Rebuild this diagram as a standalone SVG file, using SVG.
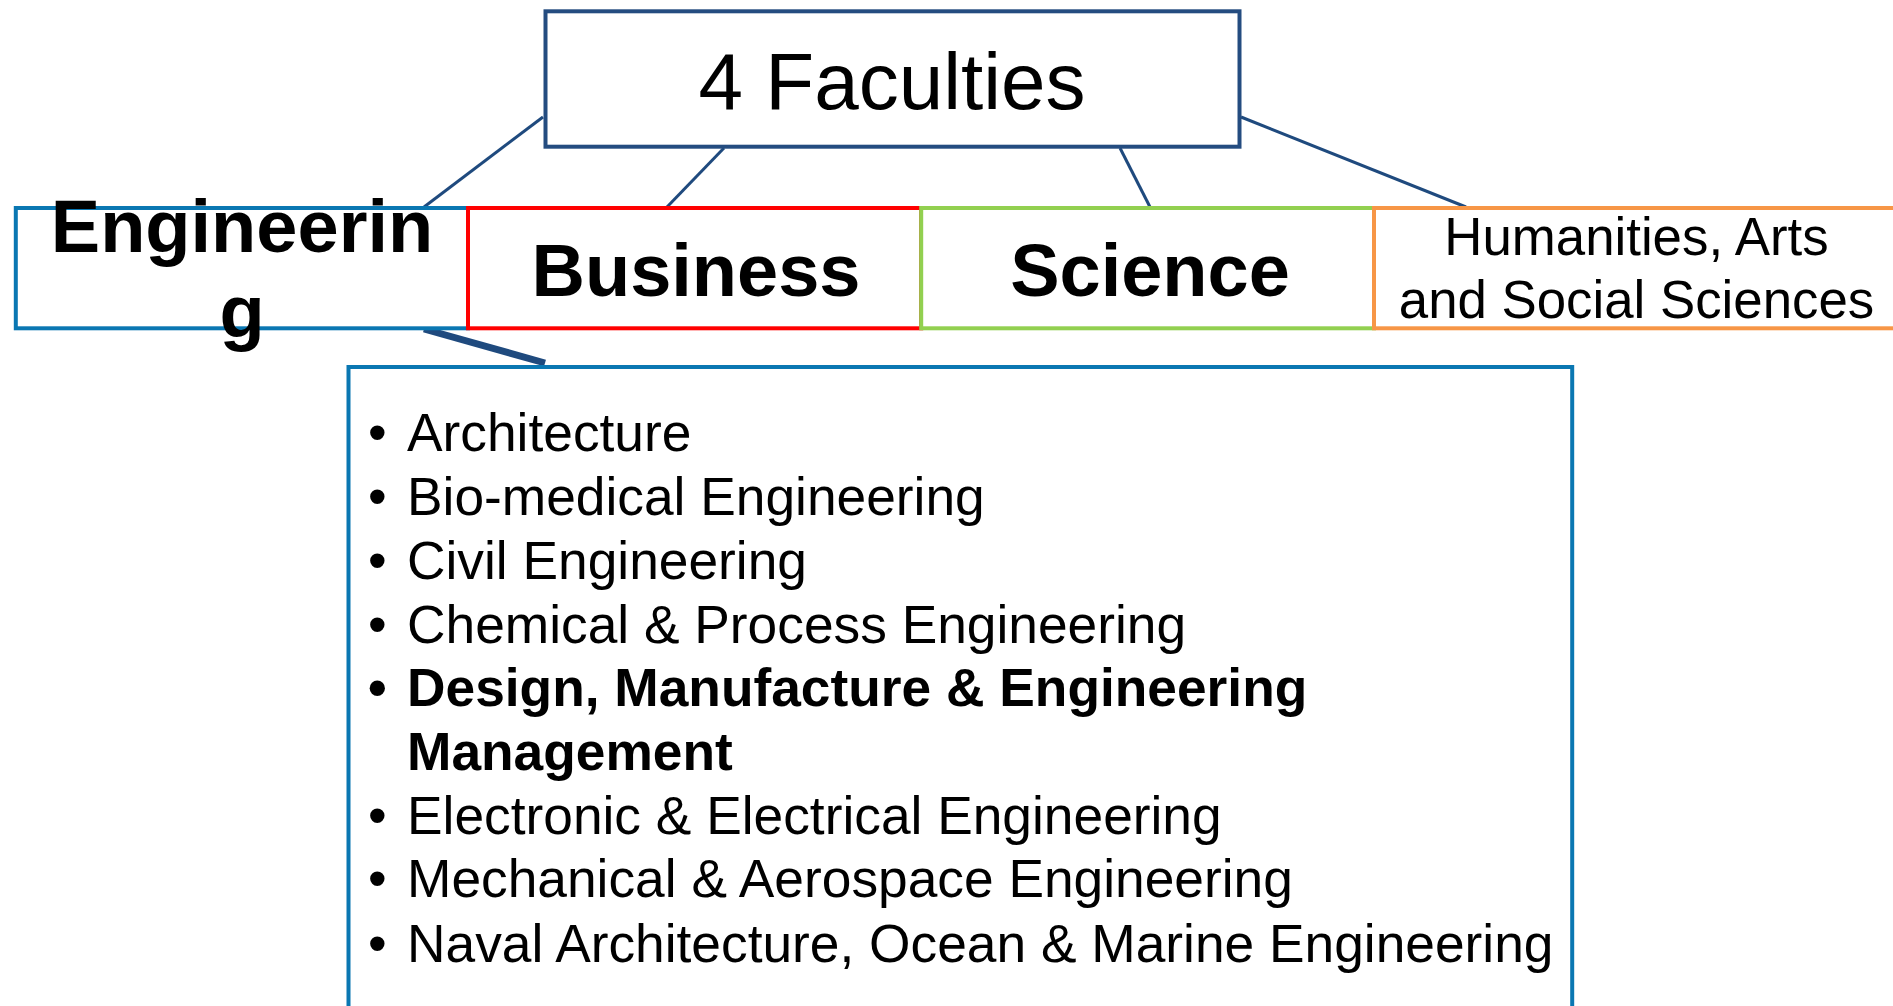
<svg xmlns="http://www.w3.org/2000/svg" width="1893" height="1006" viewBox="0 0 1893 1006">
<style>
  text { font-family: "Liberation Sans", Arial, sans-serif; fill: #000; }
  .box { fill: #fff; stroke-width: 4; }
  .conn { stroke: #1F4A7E; stroke-width: 3; fill: none; }
  .head { font-size: 74px; font-weight: bold; text-anchor: middle; }
  .item { font-size: 53.3px; }
  .bold { font-weight: bold; }
</style>
<rect width="1893" height="1006" fill="#fff"/>
<g id="connectors">
  <line class="conn" x1="543" y1="117" x2="424" y2="207"/>
  <line class="conn" x1="724" y1="148" x2="667" y2="207"/>
  <line class="conn" x1="1120" y1="148" x2="1150" y2="207"/>
  <line class="conn" x1="1241" y1="117" x2="1466" y2="207"/>
  <line x1="424" y1="329" x2="545" y2="363" stroke="#1F4A7E" stroke-width="7"/>
</g>
<g id="faculties">
  <rect class="box" x="545.5" y="11.3" width="694" height="135.4" stroke="#244C80"/>
  <text x="892" y="109" font-size="80" text-anchor="middle">4 Faculties</text>
</g>
<g id="engineering">
  <rect class="box" x="15.8" y="208" width="452.2" height="120.3" stroke="#0A77B2"/>
  <text class="head" x="242" y="252">Engineerin</text>
  <text class="head" x="242" y="337">g</text>
</g>
<g id="business">
  <rect class="box" x="468" y="208" width="453.2" height="120.3" stroke="#FF0000"/>
  <text class="head" x="696" y="296">Business</text>
</g>
<g id="science">
  <rect class="box" x="921.2" y="208" width="452.8" height="120.3" stroke="#92D050"/>
  <text class="head" x="1150" y="296">Science</text>
</g>
<g id="humanities">
  <rect class="box" x="1374" y="208" width="526" height="120.3" stroke="#F79646"/>
  <text x="1636.5" y="255" font-size="52.8" text-anchor="middle">Humanities, Arts</text>
  <text x="1636.5" y="318" font-size="52.8" text-anchor="middle">and Social Sciences</text>
</g>
<g id="engineering-list">
  <rect class="box" x="348.5" y="367" width="1223.7" height="700" stroke="#0A77B2"/>
  <g class="item">
    <text x="368" y="451">•</text><text x="407" y="451">Architecture</text>
    <text x="368" y="515">•</text><text x="407" y="515">Bio-medical Engineering</text>
    <text x="368" y="578.5">•</text><text x="407" y="578.5">Civil Engineering</text>
    <text x="368" y="642.5">•</text><text x="407" y="642.5">Chemical &amp; Process Engineering</text>
    <text x="368" y="706.2" class="bold">•</text><text x="407" y="706.2" class="bold">Design, Manufacture &amp; Engineering</text>
    <text x="407" y="770" class="bold">Management</text>
    <text x="368" y="833.6">•</text><text x="407" y="833.6">Electronic &amp; Electrical Engineering</text>
    <text x="368" y="897.4">•</text><text x="407" y="897.4">Mechanical &amp; Aerospace Engineering</text>
    <text x="368" y="961.5">•</text><text x="407" y="961.5">Naval Architecture, Ocean &amp; Marine Engineering</text>
  </g>
</g>
</svg>
